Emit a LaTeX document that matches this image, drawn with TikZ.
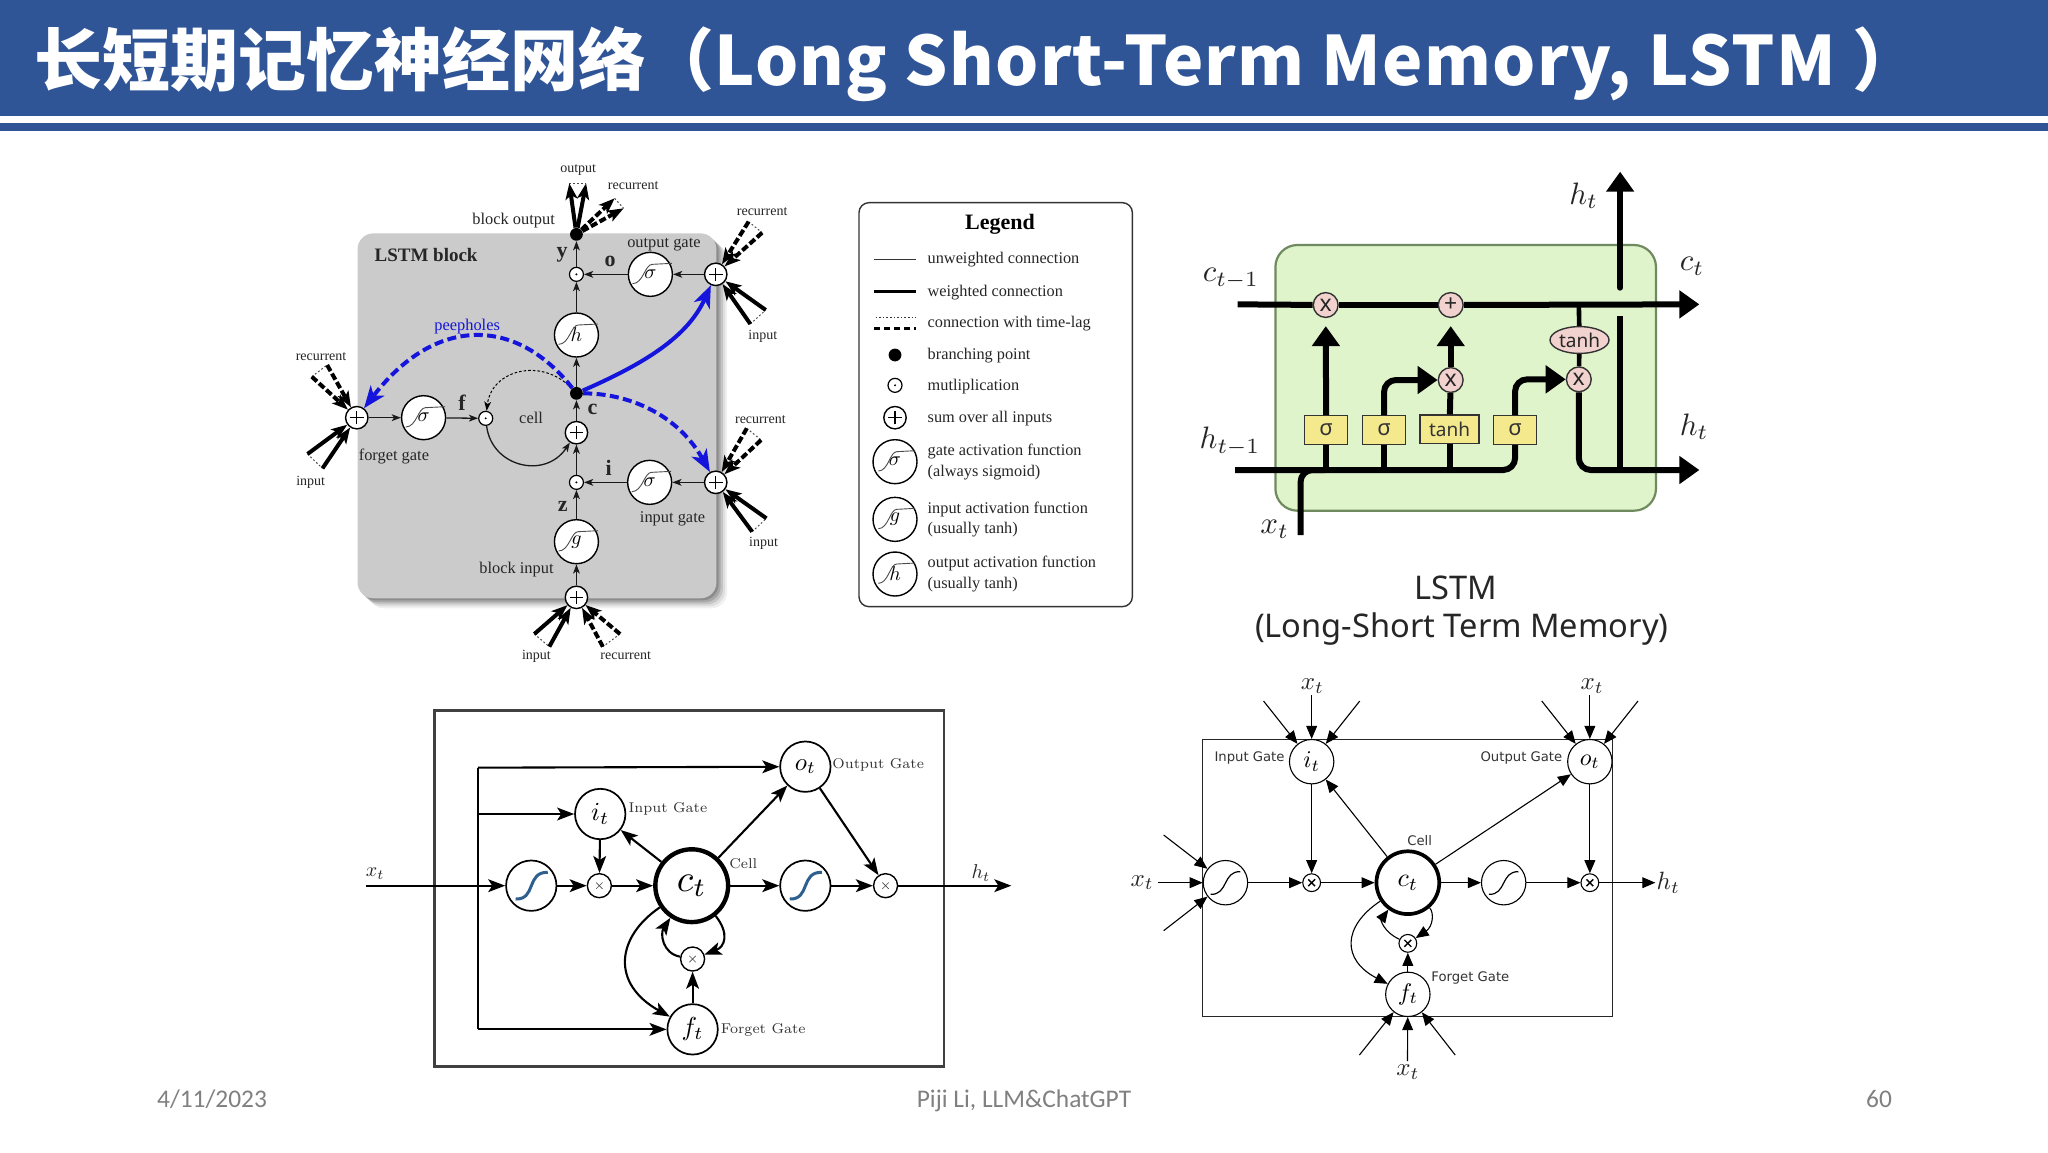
\documentclass[tikz,border=0pt]{standalone}
\usepackage{fontspec}
\usepackage{graphicx}
\usetikzlibrary{arrows.meta,shapes.geometric,calc}
\newfontfamily\cjkfont{Noto Sans CJK SC}
\newfontfamily\serifz{Liberation Serif}
\newfontfamily\carl{Carlito}
\newfontfamily\notos{Noto Sans}
\newfontfamily\dejav{DejaVu Sans}
\definecolor{banner}{HTML}{2F5597}
\definecolor{blockgray}{HTML}{CBCBCB}
\definecolor{bluepeep}{HTML}{1414DC}
\definecolor{cellgreen}{HTML}{E0F4CC}
\definecolor{cellborder}{HTML}{6F8A5F}
\definecolor{pinkop}{HTML}{F2D2CE}
\definecolor{yellowbox}{HTML}{F5E98E}
\definecolor{sigblue}{HTML}{2F5F8F}
\definecolor{footgray}{HTML}{808080}
\newcommand\mth[2]{\scalebox{#1}{$#2$}}
\newcommand\fsz[2]{\fontsize{#1}{#2}\selectfont}
% pair of weighted connections with the dotted time-lag bar
\newcommand\inpair[5]{%
  \coordinate (#1a) at (#2); \coordinate (#1b) at (#3);
  \draw[dotbar] (#1a) -- (#1b);
  \draw[#5] (#1a) -- (#4);
  \draw[#5] (#1b) -- (#4);}
\newcommand\outpair[5]{%
  \coordinate (#1a) at (#2); \coordinate (#1b) at (#3);
  \draw[dotbar] (#1a) -- (#1b);
  \draw[#5] (#4) -- (#1a);
  \draw[#5] (#4) -- (#1b);}
\newcommand\actcurve[1]{%
  \draw[line width=.45pt,black!70] ([shift={(-50,28)}]#1.center) .. controls ([shift={(-20,28)}]#1.center) and ([shift={(-15,-30)}]#1.center) .. ([shift={(5,-30)}]#1.center) -- ([shift={(60,-33)}]#1.center);}
\newcommand\sigz[1]{%
  \draw[line width=1.5pt,sigblue] ([shift={(-36,40)}]#1.center) .. controls ([shift={(12,42)}]#1.center) and ([shift={(-12,-42)}]#1.center) .. ([shift={(38,-40)}]#1.center);}
\newcommand\sigy[1]{%
  \draw[line width=.6pt,black] ([shift={(-40,35)}]#1.center) .. controls ([shift={(8,37)}]#1.center) and ([shift={(-8,-35)}]#1.center) .. ([shift={(40,-33)}]#1.center);}
\tikzset{
  txt/.style={inner sep=0pt,outer sep=0pt,text=black!85},
  ser/.style={txt,yshift=-.5pt,font=\serifz\fsz{7}{8}},
  serm/.style={txt,yshift=-.7pt,font=\serifz\fsz{8.2}{10}},
  serb/.style={txt,font=\serifz\bfseries\fsz{11}{12}},
  leg/.style={txt,yshift=-.6pt,anchor=west,align=left,font=\serifz\fsz{8.15}{10.2}},
  thn/.style={line width=.65pt,black!90,-{Stealth[length=4.6pt,width=3.4pt,inset=1.2pt]}},
  thk/.style={line width=2pt,black,-{Stealth[length=8pt,width=6pt,inset=2pt]}},
  thkd/.style={thk,dash pattern=on 3.5pt off 1.4pt},
  dotbar/.style={line width=.5pt,black!70,dash pattern=on .9pt off 1.1pt},
  peep/.style={line width=2pt,bluepeep,-{Stealth[length=11pt,width=8.5pt,inset=3pt]}},
  plusn/.style={circle,draw,fill=white,line width=.7pt,minimum size=11.2pt,inner sep=0pt,
    path picture={\draw[line width=.6pt,black] ([xshift=-3.4pt]path picture bounding box.center) -- ([xshift=3.4pt]path picture bounding box.center) ([yshift=-3.4pt]path picture bounding box.center) -- ([yshift=3.4pt]path picture bounding box.center);}},
  multn/.style={circle,draw,fill=white,line width=.6pt,minimum size=7pt,inner sep=0pt,
    path picture={\fill[black] (path picture bounding box.center) circle (.55pt);}},
  actn/.style={circle,draw,fill=white,line width=.7pt,minimum size=22pt,inner sep=0pt},
  bigdot/.style={circle,fill=black,minimum size=6.4pt,inner sep=0pt},
  % top-right LSTM figure
  ln/.style={line width=3pt,black},
  lnt/.style={ln,-{Triangle[length=10pt,width=13.5pt]}},
  opc/.style={circle,draw=black!80,fill=pinkop,line width=.7pt,minimum size=12.4pt,inner sep=0pt,font=\notos\fsz{11.5}{12},text=black!85},
  ybox/.style={draw=black!80,fill=yellowbox,line width=.6pt,minimum height=14.4pt,inner sep=0pt,font=\notos\fsz{11}{12},text=black!80},
  % bottom-left figure
  la/.style={line width=1.05pt,black,-{Stealth[length=8.5pt,width=6.4pt,inset=2pt]}},
  ela/.style={circle,draw,fill=white,line width=.85pt,minimum size=25.2pt,inner sep=0pt},
  mla/.style={circle,draw,fill=white,line width=.7pt,minimum size=12pt,inner sep=0pt,
    path picture={\draw[line width=.3pt,black!70] ([shift={(-1.6pt,-1.6pt)}]path picture bounding box.center) -- ([shift={(1.6pt,1.6pt)}]path picture bounding box.center) ([shift={(-1.6pt,1.6pt)}]path picture bounding box.center) -- ([shift={(1.6pt,-1.6pt)}]path picture bounding box.center);}},
  lmt/.style={txt,font=\fsz{7.1}{9},text=black!80},
  % bottom-right figure
  lb/.style={line width=.55pt,black,-{Triangle[length=6.5pt,width=5.4pt]}},
  elb/.style={circle,draw,fill=white,line width=.55pt,minimum size=22.2pt,inner sep=0pt},
  mlb/.style={circle,draw,fill=white,line width=.55pt,minimum size=8.9pt,inner sep=0pt,
    path picture={\draw[line width=.7pt,black] ([shift={(-1.7pt,-1.7pt)}]path picture bounding box.center) -- ([shift={(1.7pt,1.7pt)}]path picture bounding box.center) ([shift={(-1.7pt,1.7pt)}]path picture bounding box.center) -- ([shift={(1.7pt,-1.7pt)}]path picture bounding box.center);}},
  djt/.style={txt,font=\dejav\fsz{6.6}{8},text=black!80},
  zoneA/.style={x=.17857pt,y=-.16667pt,shift={(135pt,-75pt)}},
  zoneB/.style={x=.16667pt,y=-.16667pt,shift={(420pt,-95pt)}},
  zoneC/.style={x=.17219pt,y=-.16667pt,shift={(590pt,-80pt)}},
  zoneD/.style={x=.21683pt,y=-.16667pt,shift={(175pt,-345pt)}},
  zoneE/.style={x=.18498pt,y=-.16667pt,shift={(560pt,-330pt)}},
}
\begin{document}
\begin{tikzpicture}[x=.5pt,y=-.5pt]
\useasboundingbox (0,0) rectangle (2048,1152);
\fill[white] (0,0) rectangle (2048,1152);
% banner
\fill[banner] (0,0) rectangle (2048,131);
\fill[white] (0,116) rectangle (2048,123);
\node[anchor=base west,inner sep=0pt,text=white,font=\cjkfont\bfseries\fsz{34}{40}] (title) at (34,85) {长短期记忆神经网络（{\addfontfeatures{LetterSpace=1.9}Long Short-Term Memory, LSTM }）};
% footer
\node[txt,anchor=base,text=footgray,font=\carl\fsz{12.7}{14}] (fd) at (212,1107) {4/11/2023};
\node[txt,anchor=base,text=footgray,font=\carl\fsz{12.7}{14}] (fc) at (1024,1107) {Piji Li, LLM\&ChatGPT};
\node[txt,anchor=base,text=footgray,font=\carl\fsz{12.7}{14}] (fp) at (1879,1107) {60};

%%%%%% top-left: LSTM block
\begin{scope}[zoneA]
\foreach \o/\a in {30/.06,24/.08,18/.11,12/.14,6/.16}
  \fill[black,opacity=\a,rounded corners=8pt] (245+\o,250+\o) rectangle (1250+\o,1345+\o);
\fill[blockgray,rounded corners=8pt] (245,250) rectangle (1250,1345);
\node[bigdot] (dy) at (858,253) {};
\node[multn] (my) at (858,373) {};
\node[actn] (so) at (1065,373) {\mth{1}{\sigma}};
\node[plusn] (po) at (1248,373) {};
\node[actn] (hh) at (858,555) {\mth{1}{h}};
\node[bigdot] (dc) at (858,730) {};
\node[plusn] (pc) at (858,848) {};
\node[multn] (mi) at (858,997) {};
\node[actn] (si) at (1063,997) {\mth{1}{\sigma}};
\node[plusn] (pi) at (1248,997) {};
\node[actn] (gg) at (858,1175) {\mth{1}{g}};
\node[plusn] (pb) at (858,1342) {};
\node[plusn] (pf) at (243,803) {};
\node[actn] (sf) at (430,803) {\mth{1}{\sigma}};
\node[multn] (mf) at (604,805) {};
\actcurve{so}\actcurve{hh}\actcurve{si}\actcurve{gg}\actcurve{sf}
\draw[thn] (my) -- (dy);
\draw[thn] (so) -- (my);
\draw[thn] (po) -- (so);
\draw[thn] (hh) -- (my);
\draw[thn] (dc) -- (hh);
\draw[thn] (pc) -- (dc);
\draw[thn] (mi) -- (pc);
\draw[thn] (si) -- (mi);
\draw[thn] (pi) -- (si);
\draw[thn] (gg) -- (mi);
\draw[thn] (pb) -- (gg);
\draw[thn] (pf) -- (sf);
\draw[thn] (sf) -- (mf);
\draw[thn] (mf) .. controls (620,950) and (770,990) .. (pc);
\draw[line width=.5pt,black,dash pattern=on 1.3pt off 1pt,-{Stealth[length=4.6pt,width=3.4pt,inset=1.2pt]}] (dc) .. controls (760,620) and (620,660) .. (mf);
\draw[peep] (dc) .. controls (1050,640) and (1170,560) .. (po);
\draw[peep,dash pattern=on 4.5pt off 2.2pt] (dc) .. controls (690,500) and (463,495) .. (pf);
\draw[peep,dash pattern=on 4.5pt off 2.2pt] (dc) .. controls (1000,730) and (1140,790) .. (pi);
\outpair{oa}{838,100}{885,100}{dy}{thk}
\outpair{ob}{965,145}{990,175}{dy}{thkd}
\inpair{ra}{1340,215}{1378,248}{po}{thkd}
\inpair{rb}{1345,522}{1388,480}{po}{thk}
\inpair{rc}{1335,835}{1375,870}{pi}{thkd}
\inpair{rd}{1350,1145}{1390,1105}{pi}{thk}
\inpair{re}{117,680}{160,645}{pf}{thkd}
\inpair{rf}{105,912}{147,955}{pf}{thk}
\inpair{rg}{740,1452}{782,1490}{pb}{thk}
\inpair{rh}{980,1452}{932,1490}{pb}{thkd}
\node[ser] (a1) at (863,57) {output};
\node[ser] (a2) at (1017,105) {recurrent};
\node[serm] (a3) at (682,207) {block output};
\node[txt,font=\serifz\bfseries\fsz{9.5}{11}] (a4) at (437,316) {LSTM block};
\node[serb] (a5) at (818,315) {y};
\node[serb] (a6) at (952,335) {o};
\node[serm] (a7) at (1103,280) {output gate};
\node[ser] (a8) at (1378,183) {recurrent};
\node[ser] (a9) at (1380,555) {input};
\node[serm,text=bluepeep] (a10) at (552,525) {peepholes};
\node[ser] (a11) at (143,618) {recurrent};
\node[ser] (a12) at (114,995) {input};
\node[serm] (a13) at (347,915) {forget gate};
\node[serb] (a14) at (538,758) {f};
\node[serm] (a15) at (731,800) {cell};
\node[serb] (a16) at (903,778) {c};
\node[serb] (a17) at (948,955) {i};
\node[serb] (a18) at (820,1068) {z};
\node[serm] (a19) at (1127,1102) {input gate};
\node[ser] (a20) at (1373,805) {recurrent};
\node[ser] (a21) at (1382,1177) {input};
\node[serm] (a22) at (690,1253) {block input};
\node[ser] (a23) at (746,1515) {input};
\node[ser] (a24) at (996,1515) {recurrent};
\end{scope}

%%%%%% legend
\begin{scope}[zoneB]
\node[draw=black!80,fill=white,line width=.7pt,rounded corners=5pt,minimum width=136.7pt,minimum height=202pt,inner sep=0pt] (legbox) at (467,644) {};
\node[txt,font=\serifz\bfseries\fsz{11}{12},text=black] (lt) at (480,103) {Legend};
\coordinate (l1a) at (103,207); \coordinate (l1b) at (227,207);
\draw[line width=.4pt,black!80] (l1a) -- (l1b);
\coordinate (l2a) at (103,304); \coordinate (l2b) at (227,304);
\draw[line width=1.6pt,black] (l2a) -- (l2b);
\coordinate (l3a) at (107,383); \coordinate (l3b) at (227,383);
\draw[line width=.5pt,black!80,dash pattern=on .8pt off 1pt] (l3a) -- (l3b);
\coordinate (l4a) at (103,415); \coordinate (l4b) at (227,415);
\draw[line width=1.6pt,black,dash pattern=on 3pt off 2pt] (l4a) -- (l4b);
\node[bigdot] (ld) at (165,495) {};
\node[multn] (lm) at (165,586) {};
\node[plusn] (lp) at (165,683) {};
\node[actn] (ls) at (165,815) {\mth{1}{\sigma}};
\node[actn] (lg) at (165,988) {\mth{1}{g}};
\node[actn] (lh) at (165,1152) {\mth{1}{h}};
\actcurve{ls}\actcurve{lg}\actcurve{lh}
\node[leg] (b1) at (263,205) {unweighted connection};
\node[leg] (b2) at (263,303) {weighted connection};
\node[leg] (b3) at (263,397) {connection with time-lag};
\node[leg] (b4) at (263,492) {branching point};
\node[leg] (b5) at (263,587) {mutliplication};
\node[leg] (b6) at (263,683) {sum over all inputs};
\node[leg] (b7) at (263,813) {gate activation function\\(always sigmoid)};
\node[leg] (b8) at (263,984) {input activation function\\(usually tanh)};
\node[leg] (b9) at (263,1148) {output activation function\\(usually tanh)};
\end{scope}

%%%%%% top-right: green LSTM cell
\begin{scope}[zoneC]
\fill[cellgreen,draw=cellborder,line width=1.1pt,rounded corners=11pt] (277,255) rectangle (1382,1052);
\node[opc] (x1) at (423,435) {x};
\node[opc] (pl) at (786,435) {+};
\node[opc] (x2) at (786,660) {x};
\node[opc] (x3) at (1158,658) {x};
\node[ellipse,draw=black!80,fill=pinkop,line width=.7pt,minimum width=29.5pt,minimum height=13.4pt,inner sep=0pt,font=\notos\fsz{9.5}{10},text=black!85] (tn) at (1160,540) {tanh};
\node[ybox,minimum width=21.5pt] (s1) at (424.5,810) {σ};
\node[ybox,minimum width=21.5pt] (s2) at (592.5,810) {σ};
\node[ybox,minimum width=29.5pt,font=\notos\fsz{9.5}{10}] (s3) at (782.5,808) {tanh};
\node[ybox,minimum width=21.5pt] (s4) at (973,810) {σ};
\coordinate (c0) at (167,433); \coordinate (c9) at (1508,433);
\coordinate (h0) at (160,930); \coordinate (h9) at (1508,930);
\coordinate (cj) at (1158,433); \coordinate (hj) at (1278,930);
\coordinate (g1) at (1278,468); \coordinate (g2) at (1278,383); \coordinate (g3) at (1278,35);
\coordinate (xb) at (350,1125);
\draw[ln] (c0) -- (x1);
\draw[ln] (x1) -- (pl);
\draw[lnt] (pl) -- (c9);
\draw[ln,rounded corners=6pt] (h0) -- (s4.south |- h0) -- (s4.south);
\draw[ln,rounded corners=6pt] (xb) -- (xb |- h0) -- ++(70,0);
\draw[ln] (s1.south) -- (s1.south |- h0);
\draw[ln] (s2.south) -- (s2.south |- h0);
\draw[ln] (s3.south) -- (s3.south |- h0);
\draw[lnt,shorten >=4pt] (s1) -- (x1);
\draw[ln] (s3) -- (x2);
\draw[lnt,shorten >=4pt] (x2) -- (pl);
\draw[lnt,rounded corners=6pt] (s2.north) |- (x2);
\draw[lnt,rounded corners=6pt] (s4.north) |- (x3);
\draw[ln,line width=2.3pt] (cj) -- (tn);
\draw[ln,line width=2.3pt] (tn) -- (x3);
\draw[lnt,rounded corners=6pt] (x3) |- (h9);
\draw[ln] (hj) -- (g1);
\draw[lnt,line cap=round] (g2) -- (g3);
\node[txt] (t1) at (148,355) {\mth{1.55}{c_{t-1}}};
\node[txt] (t2) at (1172,107) {\mth{1.55}{h_t}};
\node[txt] (t3) at (1487,318) {\mth{1.55}{c_t}};
\node[txt] (t4) at (145,844) {\mth{1.55}{h_{t-1}}};
\node[txt] (t5) at (1493,800) {\mth{1.55}{h_t}};
\node[txt] (t6) at (275,1108) {\mth{1.55}{x_t}};
\node[txt,font=\notos\fsz{16.3}{18},text=black!85] (t7) at (802,1285) {LSTM};
\node[txt,font=\notos\fsz{16.3}{18},text=black!85] (t8) at (818,1406) {(Long-Short Term Memory)};
\end{scope}

%%%%%% bottom-left figure
\begin{scope}[zoneD]
\draw[black!75,line width=1.3pt] (195,62) rectangle (1370,1130);
\node[ela] (s1a) at (418,587) {};
\node[mla] (m1a) at (575,587) {};
\node[ela] (ita) at (577,372) {\mth{1.3}{i_t}};
\node[ela,line width=2.2pt,minimum size=36.4pt] (cta) at (788,587) {\mth{1.9}{c_t}};
\node[ela] (ota) at (1050,230) {\mth{1.25}{o_t}};
\node[ela] (s2a) at (1050,587) {};
\node[mla] (m2a) at (1235,587) {};
\node[mla] (m3a) at (790,807) {};
\node[ela] (fta) at (790,1018) {\mth{1.3}{f_t}};
\sigz{s1a}\sigz{s2a}
\coordinate (xin) at (38,587); \coordinate (hout) at (1525,587);
\coordinate (vt) at (295,233); \coordinate (vi) at (295,372); \coordinate (vb) at (295,1018);
\draw[la] (xin) -- (s1a);
\draw[line width=1.05pt,black] (vt) -- (vb);
\draw[la] (vt) -- (ota);
\draw[la] (vi) -- (ita);
\draw[la] (vb) -- (fta);
\draw[la] (s1a) -- (m1a);
\draw[la] (m1a) -- (cta);
\draw[la] (cta) -- (s2a);
\draw[la] (s2a) -- (m2a);
\draw[la] (m2a) -- (hout);
\draw[la] (ita) -- (m1a);
\draw[la] (cta) -- (ita);
\draw[la] (cta) -- (ota);
\draw[la] (ota) -- (m2a);
\draw[la] (fta) -- (m3a);
\draw[la] (cta) .. controls (615,740) and (600,880) .. (fta);
\draw[la] (m3a) .. controls (720,790) and (715,730) .. (cta);
\draw[la] (cta) .. controls (875,730) and (865,770) .. (m3a);
\node[txt] (u1) at (58,552) {\mth{1}{x_t}};
\node[txt] (u2) at (1455,548) {\mth{1}{h_t}};
\node[lmt] (u3) at (733,357) {Input Gate};
\node[lmt] (u4) at (1218,225) {Output Gate};
\node[lmt] (u5) at (907,520) {Cell};
\node[lmt] (u6) at (953,1020) {Forget Gate};
\end{scope}

%%%%%% bottom-right figure
\begin{scope}[zoneE]
\draw[black!85,line width=.6pt] (222,238) rectangle (1332,1070);
\node[elb] (itb) at (518,305) {\mth{1.2}{i_t}};
\node[elb] (otb) at (1270,305) {\mth{1.2}{o_t}};
\node[elb] (s1b) at (285,668) {};
\node[mlb] (m1b) at (518,668) {};
\node[elb,line width=1.85pt,minimum size=31.4pt] (ctb) at (778,668) {\mth{1.3}{c_t}};
\node[elb] (s2b) at (1037,668) {};
\node[mlb] (m2b) at (1270,668) {};
\node[mlb] (m3b) at (778,850) {};
\node[elb] (ftb) at (778,1003) {\mth{1.2}{f_t}};
\sigy{s1b}\sigy{s2b}
\coordinate (i1) at (388,123); \coordinate (i2) at (518,105); \coordinate (i3) at (648,123);
\coordinate (o1) at (1140,123); \coordinate (o2) at (1270,105); \coordinate (o3) at (1400,123);
\coordinate (e1) at (118,525); \coordinate (e2) at (103,668); \coordinate (e3) at (118,812);
\coordinate (f1) at (647,1185); \coordinate (f2) at (777,1203); \coordinate (f3) at (906,1185);
\coordinate (hb) at (1447,668);
\draw[lb] (i1) -- (itb); \draw[lb] (i2) -- (itb); \draw[lb] (i3) -- (itb);
\draw[lb] (o1) -- (otb); \draw[lb] (o2) -- (otb); \draw[lb] (o3) -- (otb);
\draw[lb] (e1) -- (s1b); \draw[lb] (e2) -- (s1b); \draw[lb] (e3) -- (s1b);
\draw[lb] (f1) -- (ftb); \draw[lb] (f2) -- (ftb); \draw[lb] (f3) -- (ftb);
\draw[lb] (s1b) -- (m1b);
\draw[lb] (m1b) -- (ctb);
\draw[lb] (ctb) -- (s2b);
\draw[lb] (s2b) -- (m2b);
\draw[lb] (m2b) -- (hb);
\draw[lb] (itb) -- (m1b);
\draw[lb] (otb) -- (m2b);
\draw[lb] (ctb) -- (itb);
\draw[lb] (ctb) -- (otb);
\draw[lb] (ftb) -- (m3b);
\draw[lb] (ctb) .. controls (600,800) and (600,900) .. (ftb);
\draw[lb] (m3b) .. controls (712,815) and (705,780) .. (ctb);
\draw[lb] (ctb) .. controls (850,760) and (845,800) .. (m3b);
\node[txt] (v1) at (60,668) {\mth{1.25}{x_t}};
\node[txt] (v2) at (1482,668) {\mth{1.25}{h_t}};
\node[txt] (v3) at (520,78) {\mth{1.25}{x_t}};
\node[txt] (v4) at (1276,78) {\mth{1.25}{x_t}};
\node[txt] (v5) at (778,1237) {\mth{1.25}{x_t}};
\node[djt] (v6) at (350,295) {Input Gate};
\node[djt] (v7) at (1085,293) {Output Gate};
\node[djt] (v8) at (810,542) {Cell};
\node[djt] (v9) at (947,955) {Forget Gate};
\end{scope}
\end{tikzpicture}
\end{document}
